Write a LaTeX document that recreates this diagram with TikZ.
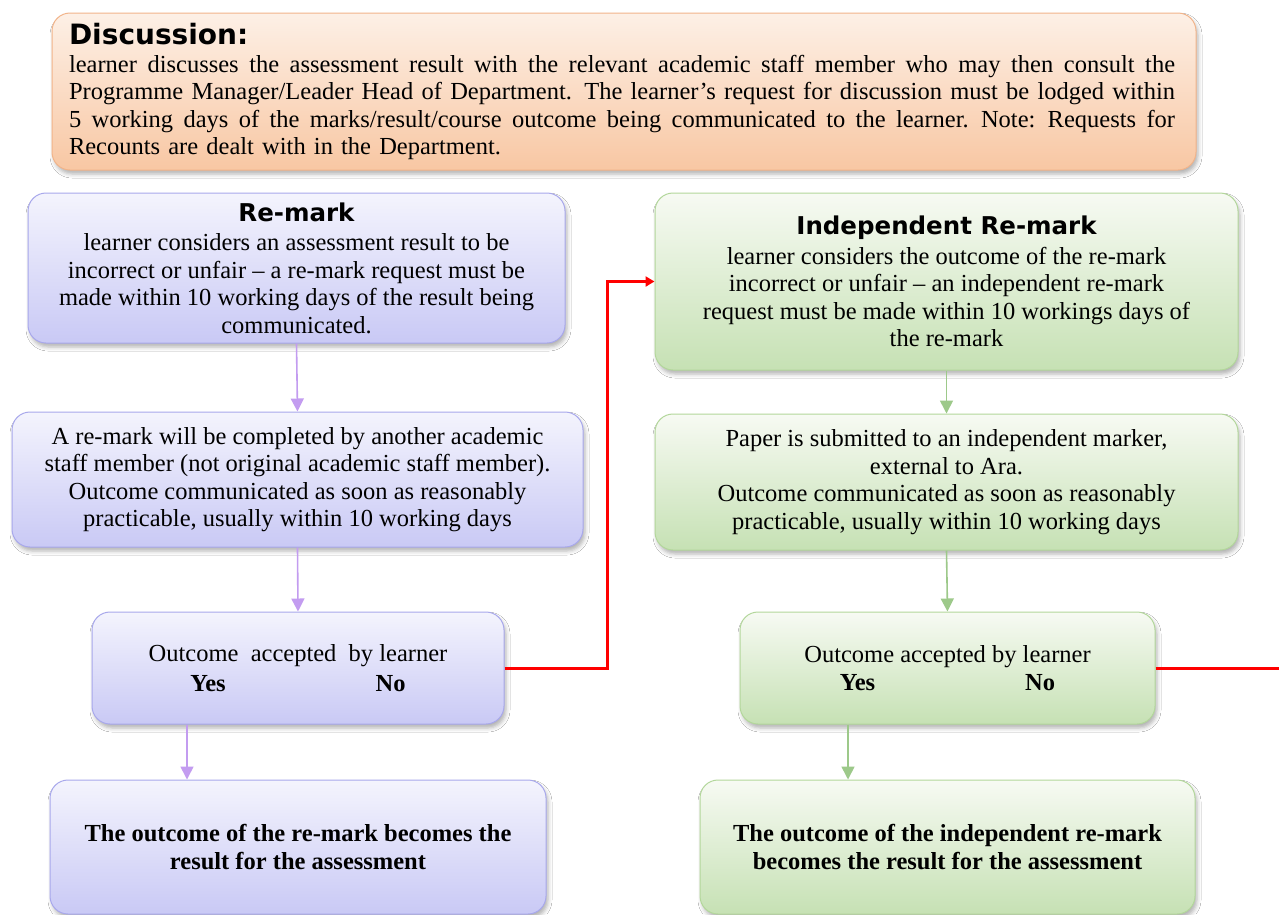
\documentclass[tikz,border=0pt]{standalone}
\usepackage{fontspec}
\setmainfont{Liberation Serif}
\setsansfont{DejaVu Sans}
\usetikzlibrary{arrows.meta,shadows.blur}
\definecolor{otop}{HTML}{FDF0E6}
\definecolor{obot}{HTML}{F8C7A3}
\definecolor{obrd}{HTML}{F2B48A}
\definecolor{ptop}{HTML}{F4F4FD}
\definecolor{pbot}{HTML}{C9C9F5}
\definecolor{pbrd}{HTML}{A8A8EC}
\definecolor{gtop}{HTML}{F7FAF3}
\definecolor{gbot}{HTML}{C6E1B4}
\definecolor{gbrd}{HTML}{B3D79B}
\definecolor{parrow}{HTML}{C39CF0}
\definecolor{garrow}{HTML}{9DC98A}
\definecolor{redline}{HTML}{FF0000}
\newcommand{\fullline}[1]{\makebox[1106pt][s]{\spaceskip=\fontdimen2\font plus 1fil\relax #1}}
\begin{document}
\begin{tikzpicture}[x=1pt,y=1pt,
  box/.style={draw, rounded corners=18pt, line width=1pt, align=center, inner sep=0pt,
    blur shadow={shadow xshift=2pt, shadow yshift=-4pt, shadow blur radius=4pt, shadow opacity=30},
    font=\fontsize{24.5}{27.5}\selectfont},
  pbox/.style={box, draw=pbrd, top color=ptop, bottom color=pbot},
  gbox/.style={box, draw=gbrd, top color=gtop, bottom color=gbot},
  obox/.style={box, draw=obrd, top color=otop, bottom color=obot},
  parr/.style={-{Triangle[width=13pt,length=13pt]}, line width=1.6pt, draw=parrow},
  garr/.style={-{Triangle[width=13pt,length=13pt]}, line width=1.6pt, draw=garrow},
  rarr/.style={line width=3pt, draw=redline}
]
\clip (0,0) rectangle (1279,-914);
\fill[white] (0,0) rectangle (1279,-914);

% Discussion
\node[obox, minimum width=1144pt, minimum height=157pt, text width=1110pt, align=left] (disc) at (624,-91.5)
 {{\sffamily\bfseries\fontsize{28}{27}\selectfont Discussion:}\\
 \fullline{learner discusses the assessment result with the relevant academic staff member who may then consult the}\\
 \fullline{Programme Manager/Leader Head of Department. The learner's request for discussion must be lodged within}\\
 \fullline{5 working days of the marks/result/course outcome being communicated to the learner. Note: Requests for}\\
 Recounts are dealt with in the Department.};

% Left column (Re-mark)
\node[pbox, minimum width=537pt, minimum height=150pt] (rm) at (296.5,-268)
 {{\sffamily\bfseries\fontsize{24.5}{30}\selectfont Re-mark}\\[2pt]
 learner considers an assessment result to be\\
 incorrect or unfair -- a re-mark request must be\\
 made within 10 working days of the result being\\
 communicated.};
\node[pbox, minimum width=571pt, minimum height=135pt] (rm2) at (297.5,-479.5)
 {A re-mark will be completed by another academic\\
 staff member (not original academic staff member).\\
 Outcome communicated as soon as reasonably\\
 practicable, usually within 10 working days};
\node[pbox, minimum width=412pt, minimum height=112pt] (rm3) at (298,-668)
 {Outcome\ \ accepted\ \ by learner\\[2pt]
 \textbf{Yes}\hspace{150pt}\textbf{No}};
\node[pbox, minimum width=496pt, minimum height=134pt, font=\bfseries\fontsize{24.5}{27.5}\selectfont] (rm4) at (298,-847)
 {The outcome of the re-mark becomes the\\
 result for the assessment};

% Right column (Independent Re-mark)
\node[gbox, minimum width=583pt, minimum height=177pt] (ir) at (946.5,-281.5)
 {{\sffamily\bfseries\fontsize{24.5}{32}\selectfont Independent Re-mark}\\[2pt]
 learner considers the outcome of the re-mark\\
 incorrect or unfair -- an independent re-mark\\
 request must be made within 10 workings days of\\
 the re-mark};
\node[gbox, minimum width=583pt, minimum height=136pt] (ir2) at (946.5,-482)
 {Paper is submitted to an independent marker,\\
 external to Ara.\\
 Outcome communicated as soon as reasonably\\
 practicable, usually within 10 working days};
\node[gbox, minimum width=415pt, minimum height=112pt] (ir3) at (947.5,-668)
 {Outcome accepted by learner\\[0pt]
 \textbf{Yes}\hspace{150pt}\textbf{No}};
\node[gbox, minimum width=495pt, minimum height=134pt, font=\bfseries\fontsize{24.5}{27.5}\selectfont] (ir4) at (947.5,-847)
 {The outcome of the independent re-mark\\
 becomes the result for the assessment};

% Connectors
\draw[parr] (rm.south) -- (rm2.north);
\draw[parr] (rm2.south) -- (rm3.north);
\draw[parr] ([xshift=-111pt]rm3.south) -- ([xshift=-111pt]rm4.north);
\draw[garr] (ir.south) -- (ir2.north);
\draw[garr] (ir2.south) -- (ir3.north);
\draw[garr] ([xshift=-99.5pt]ir3.south) -- ([xshift=-99.5pt]ir4.north);
\draw[rarr, -{Triangle[width=10pt,length=9pt]}] (rm3.east) -- ++(103,0) |- (ir.west);
\coordinate (offedge) at (1290,-668);
\draw[rarr] (ir3.east) -- (offedge);
\end{tikzpicture}
\end{document}
